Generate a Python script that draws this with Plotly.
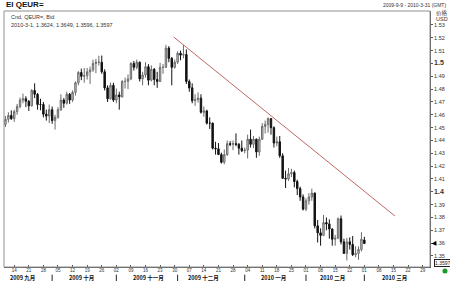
import plotly.graph_objects as go
import pandas as pd

# ---- data (EUR/USD daily bars) ----
dates = pd.bdate_range("2009-09-09", "2010-03-01")

opens = [1.4525, 1.4565, 1.4595, 1.4570, 1.4625, 1.4665, 1.4715, 1.4725, 1.4705, 1.4670,
         1.4790, 1.4760, 1.4680, 1.4680, 1.4605, 1.4590, 1.4640, 1.4555, 1.4580, 1.4640,
         1.4715, 1.4690, 1.4760, 1.4715, 1.4775, 1.4850, 1.4930, 1.4900, 1.4905, 1.4935,
         1.4950, 1.5000, 1.5010, 1.5010, 1.4935, 1.4810, 1.4725, 1.4830, 1.4715, 1.4755,
         1.4740, 1.4860, 1.4860, 1.4880, 1.5000, 1.4970, 1.5010, 1.4880, 1.4910, 1.4975,
         1.4870, 1.4955, 1.4875, 1.4860, 1.4970, 1.4970, 1.5120, 1.5040, 1.4970, 1.5010,
         1.5080, 1.5065, 1.5070, 1.4860, 1.4810, 1.4710, 1.4720, 1.4730, 1.4620, 1.4630,
         1.4535, 1.4535, 1.4340, 1.4335, 1.4290, 1.4230, 1.4290, 1.4375, 1.4370, 1.4375,
         1.4370, 1.4340, 1.4320, 1.4325, 1.4410, 1.4370, 1.4410, 1.4310, 1.4410, 1.4510,
         1.4525, 1.4570, 1.4500, 1.4380, 1.4390, 1.4280, 1.4105, 1.4100, 1.4140, 1.4150,
         1.4080, 1.4025, 1.3960, 1.3865, 1.3930, 1.3960, 1.3990, 1.3735, 1.3680, 1.3660,
         1.3760, 1.3750, 1.3710, 1.3630, 1.3640, 1.3790, 1.3610, 1.3520, 1.3610, 1.3590,
         1.3510, 1.3520, 1.3550, 1.3624]
highs = [1.4590, 1.4620, 1.4635, 1.4640, 1.4685, 1.4735, 1.4765, 1.4745, 1.4715, 1.4800,
         1.4845, 1.4770, 1.4725, 1.4700, 1.4640, 1.4680, 1.4665, 1.4600, 1.4660, 1.4760,
         1.4730, 1.4780, 1.4770, 1.4790, 1.4860, 1.4940, 1.4960, 1.4965, 1.4965, 1.4975,
         1.5030, 1.5035, 1.5060, 1.5062, 1.4955, 1.4830, 1.4850, 1.4850, 1.4805, 1.4780,
         1.4870, 1.4890, 1.4915, 1.5010, 1.5020, 1.5030, 1.5015, 1.4935, 1.5010, 1.4995,
         1.4985, 1.4965, 1.4935, 1.5005, 1.4995, 1.5145, 1.5135, 1.5050, 1.5030, 1.5095,
         1.5100, 1.5145, 1.5110, 1.4875, 1.4845, 1.4760, 1.4775, 1.4760, 1.4665, 1.4640,
         1.4580, 1.4540, 1.4390, 1.4380, 1.4305, 1.4330, 1.4400, 1.4395, 1.4400, 1.4455,
         1.4380, 1.4400, 1.4345, 1.4445, 1.4485, 1.4435, 1.4415, 1.4430, 1.4535, 1.4555,
         1.4580, 1.4575, 1.4510, 1.4430, 1.4435, 1.4300, 1.4165, 1.4185, 1.4180, 1.4165,
         1.4095, 1.4040, 1.3980, 1.3950, 1.3990, 1.4025, 1.3995, 1.3780, 1.3715, 1.3820,
         1.3800, 1.3785, 1.3715, 1.3665, 1.3800, 1.3815, 1.3635, 1.3640, 1.3645, 1.3655,
         1.3575, 1.3575, 1.3685, 1.3649]
lows = [1.4505, 1.4540, 1.4560, 1.4545, 1.4600, 1.4650, 1.4690, 1.4660, 1.4630, 1.4665,
        1.4730, 1.4640, 1.4635, 1.4580, 1.4555, 1.4535, 1.4530, 1.4485, 1.4570, 1.4630,
        1.4655, 1.4680, 1.4685, 1.4700, 1.4750, 1.4830, 1.4870, 1.4850, 1.4875, 1.4840,
        1.4935, 1.4925, 1.4985, 1.4920, 1.4790, 1.4700, 1.4720, 1.4700, 1.4690, 1.4640,
        1.4735, 1.4805, 1.4800, 1.4870, 1.4945, 1.4955, 1.4860, 1.4830, 1.4890, 1.4830,
        1.4860, 1.4830, 1.4810, 1.4855, 1.4920, 1.4965, 1.5010, 1.4830, 1.4960, 1.4995,
        1.5025, 1.5040, 1.4840, 1.4780, 1.4690, 1.4670, 1.4695, 1.4610, 1.4585, 1.4525,
        1.4490, 1.4330, 1.4290, 1.4290, 1.4220, 1.4215, 1.4280, 1.4355, 1.4325, 1.4355,
        1.4290, 1.4310, 1.4300, 1.4260, 1.4345, 1.4340, 1.4265, 1.4280, 1.4405, 1.4455,
        1.4460, 1.4445, 1.4345, 1.4355, 1.4265, 1.4100, 1.4030, 1.4085, 1.4115, 1.4035,
        1.3975, 1.3930, 1.3855, 1.3850, 1.3900, 1.3930, 1.3715, 1.3605, 1.3580, 1.3655,
        1.3700, 1.3635, 1.3580, 1.3580, 1.3630, 1.3590, 1.3520, 1.3465, 1.3550, 1.3500,
        1.3490, 1.3470, 1.3535, 1.3596]
closes = [1.4565, 1.4595, 1.4570, 1.4625, 1.4665, 1.4715, 1.4725, 1.4705, 1.4670, 1.4790,
          1.4760, 1.4680, 1.4680, 1.4605, 1.4590, 1.4640, 1.4555, 1.4580, 1.4640, 1.4715,
          1.4690, 1.4760, 1.4715, 1.4775, 1.4850, 1.4930, 1.4900, 1.4905, 1.4935, 1.4950,
          1.5000, 1.5010, 1.5010, 1.4935, 1.4810, 1.4725, 1.4830, 1.4715, 1.4755, 1.4740,
          1.4860, 1.4860, 1.4880, 1.5000, 1.4970, 1.5010, 1.4880, 1.4910, 1.4975, 1.4870,
          1.4955, 1.4875, 1.4860, 1.4970, 1.4970, 1.5120, 1.5040, 1.4970, 1.5010, 1.5080,
          1.5065, 1.5070, 1.4860, 1.4810, 1.4710, 1.4720, 1.4730, 1.4620, 1.4630, 1.4535,
          1.4535, 1.4340, 1.4335, 1.4290, 1.4230, 1.4290, 1.4375, 1.4370, 1.4375, 1.4370,
          1.4340, 1.4320, 1.4325, 1.4410, 1.4370, 1.4410, 1.4310, 1.4410, 1.4510, 1.4525,
          1.4570, 1.4500, 1.4380, 1.4390, 1.4280, 1.4105, 1.4100, 1.4140, 1.4150, 1.4080,
          1.4025, 1.3960, 1.3865, 1.3930, 1.3960, 1.3990, 1.3735, 1.3680, 1.3660, 1.3760,
          1.3750, 1.3710, 1.3630, 1.3640, 1.3790, 1.3610, 1.3520, 1.3610, 1.3590, 1.3510,
          1.3520, 1.3550, 1.3630, 1.3597]

trend_x = ["2009-11-30 04:00", "2010-03-16 00:00"]
trend_y = [1.5206, 1.3811]

tick_dates = ["2009-09-14", "2009-09-21", "2009-09-28", "2009-10-05", "2009-10-12",
              "2009-10-19", "2009-10-26", "2009-11-02", "2009-11-09", "2009-11-16",
              "2009-11-23", "2009-11-30", "2009-12-07", "2009-12-14", "2009-12-21",
              "2009-12-28", "2010-01-04", "2010-01-11", "2010-01-18", "2010-01-25",
              "2010-02-01", "2010-02-08", "2010-02-15", "2010-02-22", "2010-03-01",
              "2010-03-08", "2010-03-15", "2010-03-22", "2010-03-29"]
tick_text = ["14", "21", "28", "05", "12", "19", "26", "02", "09", "16", "23", "30",
             "07", "14", "21", "28", "04", "11", "18", "25", "01", "08", "15", "22",
             "01", "08", "15", "22", "29"]

month_labels = ["2009 九月", "2009 十月", "2009 十一月", "2009 十二月",
                "2010 一月", "2010 二月", "2010 三月"]
month_label_pos = ["2009-09-17 12:00", "2009-10-15 12:00", "2009-11-17 12:00",
                   "2009-12-14 12:00", "2010-01-15 12:00", "2010-02-12 12:00",
                   "2010-03-16 00:00"]
month_starts = ["2009-10-01 12:00", "2009-11-02 12:00", "2009-12-01 12:00",
                "2010-01-01 12:00", "2010-02-01 12:00", "2010-03-01 12:00"]

y_ticks = [1.35, 1.36, 1.37, 1.38, 1.39, 1.40, 1.41, 1.42, 1.43, 1.44, 1.45, 1.46,
           1.47, 1.48, 1.49, 1.50, 1.51, 1.52, 1.53]
y_tick_text = ["1.35", "1.36", "1.37", "1.38", "1.39", "1.4", "1.41", "1.42", "1.43",
               "1.44", "1.45", "1.46", "1.47", "1.48", "1.49", "1.5", "1.51", "1.52", "1.53"]

last_price = 1.3597

# ---- figure ----
FONT = "Liberation Sans, Arial, sans-serif"
CJK = "Noto Sans CJK SC, Liberation Sans, sans-serif"

x_noon = [d + pd.Timedelta(hours=12) for d in dates]

fig = go.Figure()
fig.add_trace(go.Candlestick(
    x=x_noon, open=opens, high=highs, low=lows, close=closes,
    increasing=dict(line=dict(color="#6a6a6a", width=1), fillcolor="#d4d4d4"),
    decreasing=dict(line=dict(color="#111111", width=1), fillcolor="#111111"),
    whiskerwidth=0, showlegend=False, hoverinfo="skip"))

fig.add_trace(go.Scatter(x=trend_x, y=trend_y, mode="lines",
                         line=dict(color="#c06666", width=1),
                         showlegend=False, hoverinfo="skip"))

ticktext_y = []
for t in y_tick_text:
    if t in ("1.5", "1.4"):
        ticktext_y.append("<b><span style='font-size:7px'>%s</span></b>" % t)
    else:
        ticktext_y.append(t)

fig.update_layout(
    width=450, height=281,
    margin=dict(l=4, r=20, t=11, b=14),
    paper_bgcolor="white", plot_bgcolor="white",
    font=dict(family=FONT, size=5.5, color="#333333"),
    xaxis=dict(
        type="date",
        range=["2009-09-09 00:00", "2010-04-01 00:00"],
        rangebreaks=[dict(bounds=["sat", "mon"])],
        rangeslider=dict(visible=False),
        tickvals=[pd.Timestamp(d) + pd.Timedelta(hours=12) for d in tick_dates],
        ticktext=tick_text,
        tickfont=dict(size=4.5, color="#333333"),
        ticks="inside", ticklen=2, tickcolor="#555555",
        ticklabelstandoff=-1,
        showgrid=False, zeroline=False,
        showline=True, linecolor="#555555", linewidth=1,
    ),
    yaxis=dict(
        side="right",
        range=[1.3414, 1.5409],
        tickvals=y_ticks, ticktext=ticktext_y,
        tickfont=dict(size=5.5, color="#333333"),
        ticks="outside", ticklen=2, tickcolor="#555555",
        showgrid=False, zeroline=False,
        showline=True, linecolor="#555555", linewidth=1,
    ),
)

shapes = [
    dict(type="rect", xref="paper", yref="paper", x0=0, x1=1, y0=0, y1=1,
         line=dict(color="#909090", width=1), layer="above"),
    dict(type="path", xref="paper", yref="y",
         path="M 1.0035 %f L 1.0150 %f L 1.0150 %f Z" % (last_price, last_price + 0.0018, last_price - 0.0018),
         fillcolor="black", line=dict(width=0)),
    dict(type="circle", xref="paper", yref="paper",
         x0=1.0293, x1=1.0411, y0=-0.0254, y1=-0.0058,
         fillcolor="#1a9a2a", line=dict(width=0)),
]
for pos in month_starts:
    shapes.append(dict(type="line", xref="x", yref="paper", x0=pos, x1=pos,
                       y0=-0.058, y1=-0.030, line=dict(color="#222222", width=1)))
fig.update_layout(shapes=shapes)

ann = [
    dict(text="<b>EI QEUR=</b>", x=0, y=1.0, xref="paper", yref="paper",
         xanchor="left", yanchor="bottom", yshift=0, showarrow=False,
         font=dict(family=FONT, size=8, color="#111111")),
    dict(text="Cnd, QEUR=, Bid", x=0.012, y=0.9785, xref="paper", yref="paper",
         xanchor="left", yanchor="middle", showarrow=False,
         font=dict(family=FONT, size=5.5, color="#333333")),
    dict(text="2010-3-1, 1.3624, 1.3649, 1.3596, 1.3597", x=0.012, y=0.947,
         xref="paper", yref="paper", xanchor="left", yanchor="middle", showarrow=False,
         font=dict(family=FONT, size=5.5, color="#333333")),
    dict(text="2009-9-9 - 2010-3-31 (GMT)", x=1.042, y=1.0234, xref="paper", yref="paper",
         xanchor="right", yanchor="middle", showarrow=False,
         font=dict(family=FONT, size=5, color="#333333")),
    dict(text="价格", x=1.0094, y=0.992, xref="paper", yref="paper",
         xanchor="left", yanchor="middle", showarrow=False,
         font=dict(family=CJK, size=5.5, color="#333333")),
    dict(text="USD", x=1.0094, y=0.969, xref="paper", yref="paper",
         xanchor="left", yanchor="middle", showarrow=False,
         font=dict(family=FONT, size=5.5, color="#333333")),
    dict(text="1.3597", x=1.0094, y=0.0137, xref="paper", yref="paper",
         xanchor="left", yanchor="middle", showarrow=False,
         bordercolor="#222222", borderwidth=1, borderpad=0,
         font=dict(family=FONT, size=5, color="#222222")),
]
for lbl, pos in zip(month_labels, month_label_pos):
    ann.append(dict(text="<b>%s</b>" % lbl, x=pos, y=-0.043, xref="x", yref="paper",
                    xanchor="center", yanchor="middle", showarrow=False,
                    font=dict(family=CJK, size=5.5, color="#111111")))
fig.update_layout(annotations=ann)

fig.write_html("out.html")
